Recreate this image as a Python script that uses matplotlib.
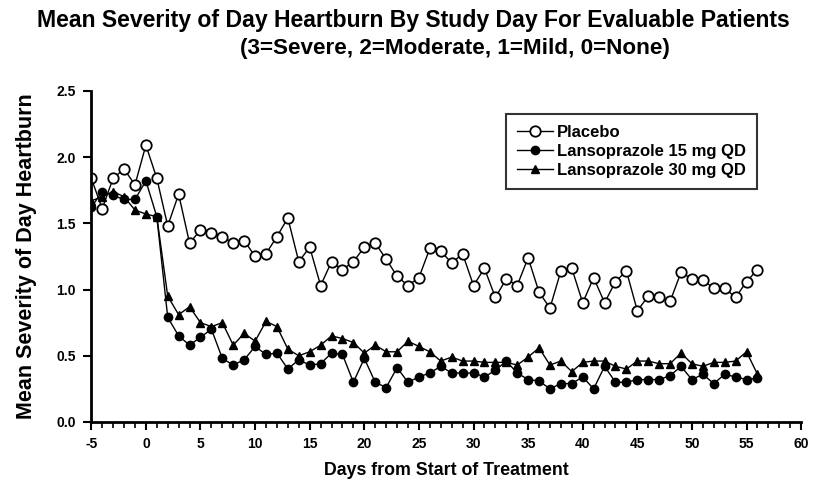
import matplotlib
matplotlib.use("Agg")
import matplotlib.pyplot as plt
from matplotlib.ticker import MultipleLocator

plt.rcParams['font.family'] = ['Liberation Sans', 'DejaVu Sans']
plt.rcParams['font.weight'] = 'bold'
plt.rcParams['axes.unicode_minus'] = False

days = list(range(-5, 57))

placebo = [1.84, 1.61, 1.84, 1.91, 1.79, 2.09, 1.84, 1.48, 1.72, 1.35,
           1.45, 1.43, 1.40, 1.35, 1.37, 1.25, 1.27, 1.40, 1.54, 1.21,
           1.32, 1.03, 1.21, 1.15, 1.21, 1.32, 1.35, 1.23, 1.10, 1.03,
           1.09, 1.31, 1.29, 1.20, 1.27, 1.03, 1.16, 0.94, 1.08, 1.03,
           1.24, 0.98, 0.86, 1.14, 1.16, 0.90, 1.09, 0.90, 1.06, 1.14,
           0.84, 0.95, 0.94, 0.91, 1.13, 1.08, 1.07, 1.01, 1.01, 0.94,
           1.06, 1.15]

lanso15 = [1.62, 1.74, 1.71, 1.68, 1.68, 1.82, 1.55, 0.79, 0.65, 0.58,
           0.64, 0.70, 0.48, 0.43, 0.47, 0.57, 0.51, 0.52, 0.40, 0.47,
           0.43, 0.44, 0.52, 0.51, 0.30, 0.48, 0.30, 0.26, 0.41, 0.30,
           0.34, 0.37, 0.42, 0.37, 0.37, 0.37, 0.34, 0.39, 0.46, 0.37,
           0.32, 0.31, 0.25, 0.29, 0.29, 0.34, 0.25, 0.42, 0.30, 0.30,
           0.32, 0.32, 0.32, 0.35, 0.42, 0.32, 0.36, 0.29, 0.36, 0.34,
           0.32, 0.33]

lanso30 = [1.67, 1.70, 1.74, 1.70, 1.60, 1.57, 1.55, 0.95, 0.81, 0.87,
           0.75, 0.72, 0.75, 0.58, 0.67, 0.61, 0.76, 0.72, 0.55, 0.50,
           0.53, 0.58, 0.65, 0.63, 0.60, 0.52, 0.58, 0.53, 0.53, 0.61,
           0.57, 0.53, 0.46, 0.49, 0.46, 0.46, 0.45, 0.45, 0.45, 0.43,
           0.49, 0.56, 0.43, 0.46, 0.38, 0.45, 0.46, 0.46, 0.42, 0.40,
           0.46, 0.46, 0.44, 0.44, 0.52, 0.44, 0.42, 0.45, 0.45, 0.46,
           0.53, 0.36]

fig = plt.figure(figsize=(8.15, 4.95), dpi=100)
ax = fig.add_axes([0.112, 0.1475, 0.871, 0.669])

ax.plot(days, placebo, color='black', lw=1, marker='o', ms=7.5,
        mfc='white', mec='black', mew=1.3, label='Placebo')
ax.plot(days, lanso15, color='black', lw=1, marker='o', ms=6,
        mfc='black', mec='black', label='Lansoprazole 15 mg QD')
ax.plot(days, lanso30, color='black', lw=1, marker='^', ms=5.5,
        mfc='black', mec='black', label='Lansoprazole 30 mg QD')

ax.set_xlim(-5, 60)
ax.set_ylim(0, 2.5)
ax.xaxis.set_major_locator(MultipleLocator(5))
ax.xaxis.set_minor_locator(MultipleLocator(1))
ax.yaxis.set_major_locator(MultipleLocator(0.5))
ax.yaxis.set_major_formatter(plt.FuncFormatter(lambda v, p: f'{v:.1f}'))

for side in ['top', 'right']:
    ax.spines[side].set_visible(False)
for side in ['left', 'bottom']:
    ax.spines[side].set_linewidth(2)
ax.tick_params(axis='both', which='major', direction='out', length=6,
               width=1.5, labelsize=10, pad=5)
ax.tick_params(axis='x', which='minor', direction='out', length=4, width=1.2)

ax.set_xlabel('Days from Start of Treatment', fontsize=12.8,
              fontweight='bold', labelpad=8)
ax.set_ylabel('Mean Severity of Day Heartburn', fontsize=15.5,
              fontweight='bold', labelpad=14)

fig.text(0.045, 0.958,
         'Mean Severity of Day Heartburn By Study Day For Evaluable Patients',
         ha='left', va='center', fontsize=16.6, fontweight='bold')
fig.text(0.558, 0.903, '(3=Severe, 2=Moderate, 1=Mild, 0=None)',
         ha='center', va='center', fontsize=16.2, fontweight='bold')

leg = ax.legend(loc='upper right', bbox_to_anchor=(0.949, 0.955),
                fontsize=12, frameon=True, fancybox=False, edgecolor='black',
                handlelength=2.2, handletextpad=0.2, borderpad=0.65,
                labelspacing=0.25)
leg.get_frame().set_linewidth(1.5)
for t in leg.get_texts():
    t.set_fontweight('bold')

fig.savefig('out.png', dpi=100)
